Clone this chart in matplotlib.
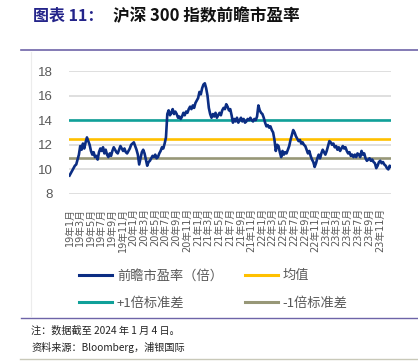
import matplotlib
matplotlib.use("Agg")
import matplotlib.pyplot as plt
from matplotlib.lines import Line2D
import pandas as pd

plt.rcParams['font.family'] = ['Noto Sans CJK SC', 'DejaVu Sans']

# weekly-ish forward P/E of CSI 300 (Jan 2019 - Jan 2024), 4 readings per month
pe_values = [
    # 2019
    9.5, 9.7, 9.9, 10.1,   10.3, 10.4, 10.8, 11.2,   11.9, 11.6, 12.1, 11.7,
    12.2, 12.6, 12.3, 12.0,   11.5, 11.2, 11.4, 11.0,   11.1, 10.8, 11.4, 11.7,
    11.5, 11.8, 11.3, 11.6,   11.2, 11.0, 11.3, 11.1,   11.5, 11.8, 11.6, 11.4,
    11.3, 11.6, 11.9, 11.7,   11.5, 11.7, 11.4, 11.3,   11.5, 11.7, 12.0, 12.1,
    # 2020
    12.2, 11.9, 11.6, 11.2,   10.4, 10.9, 11.4, 11.6,   11.3, 10.8, 10.3, 10.6,
    10.7, 10.9, 11.1, 11.0,   11.2, 10.9, 11.0, 11.3,   11.5, 11.8, 11.7, 12.1,
    12.6, 14.5, 14.8, 14.4,   14.6, 14.9, 14.5, 14.7,   14.5, 14.2, 14.3, 14.1,
    14.3, 14.6, 14.4, 14.7,   14.6, 14.9, 15.1, 14.9,   15.2, 15.0, 15.4, 15.6,
    # 2021
    15.8, 16.3, 16.1, 16.6,   16.9, 17.0, 16.6, 16.0,   15.0, 14.5, 14.2, 14.5,
    14.3, 14.6, 14.2, 14.4,   14.6, 14.4, 14.8, 15.0,   14.9, 15.3, 15.1, 14.8,
    14.9, 14.4, 13.8, 14.1,   13.9, 14.2, 13.8, 14.0,   14.2, 13.9, 14.1, 13.8,
    13.9, 14.1, 14.0, 14.2,   14.0, 13.9, 14.1, 14.0,   14.3, 15.2, 14.8, 14.6,
    # 2022
    14.5, 14.2, 13.8, 13.5,   13.6, 13.4, 13.5, 13.2,   13.0, 12.4, 11.5, 12.0,
    11.9, 11.4, 11.0, 11.5,   11.2, 11.4, 11.3, 11.6,   11.9, 12.4, 12.8, 13.2,
    13.0, 12.7, 12.5, 12.3,   12.4, 12.1, 12.2, 12.0,   11.9, 11.6, 11.3, 11.5,
    11.1, 10.8, 10.6, 10.2,   10.5, 10.9, 11.2, 10.9,   11.3, 11.6, 11.4, 11.2,
    # 2023
    11.5, 11.9, 12.3, 12.2,   12.0, 12.1, 11.8, 11.9,   11.6, 11.8, 11.5, 11.7,
    11.9, 11.7, 11.8, 11.5,   11.3, 11.4, 11.1, 11.2,   11.0, 11.2, 11.0, 11.3,
    11.2, 11.0, 11.5, 11.2,   11.3, 10.9, 10.7, 10.8,   10.9, 10.7, 10.8, 10.6,
    10.5, 10.1, 10.3, 10.6,   10.7, 10.5, 10.6, 10.4,   10.3, 10.1, 10.0, 10.3,
    # Jan 2024
    10.2,
]
start_date = "2019-01-01"
end_date = "2024-01-04"
mean_value = 12.45
plus_std = 14.03
minus_std = 10.90

y_ticks = [8, 10, 12, 14, 16, 18]
series_labels = ["前瞻市盈率（倍）", "均值", "+1倍标准差", "-1倍标准差"]
colors = ["#0b2d83", "#ffc000", "#10a099", "#979777"]

title_prefix = "图表 11："
title_main = "沪深 300 指数前瞻市盈率"
note_text = "注：数据截至 2024 年 1 月 4 日。"
source_text = "资料来源：Bloomberg，浦银国际"

dates = pd.date_range(start_date, end_date, periods=len(pe_values))
tick_dates = pd.date_range("2019-01-01", "2023-11-01", freq="2MS")
tick_labels = [f"{d.year % 100}年{d.month}月" for d in tick_dates]

W, H = 418, 363
fig = plt.figure(figsize=(W / 100, H / 100), dpi=100)

ax = fig.add_axes([69 / W, 1 - 194 / H, (391 - 69) / W, (194 - 71) / H])
lw = 1.9
ax.plot(dates, pe_values, color=colors[0], lw=lw, zorder=5)
ax.axhline(mean_value, color=colors[1], lw=lw, zorder=4)
ax.axhline(plus_std, color=colors[2], lw=lw, zorder=4)
ax.axhline(minus_std, color=colors[3], lw=lw, zorder=4)

ax.set_xlim(pd.Timestamp(start_date) - pd.Timedelta(days=3), pd.Timestamp(end_date))
ax.set_ylim(8, 18)
ax.set_yticks(y_ticks)
ax.set_yticklabels([str(t) for t in y_ticks], fontsize=9.5, color="#595959",
                   family=["Liberation Sans", "DejaVu Sans"])
ax.set_xticks(tick_dates)
ax.set_xticklabels(tick_labels, rotation=90, ha="center", va="top",
                   fontsize=7, color="#595959",
                   family=["DejaVu Sans", "Noto Sans CJK SC"])
ax.tick_params(axis="y", length=0, pad=12)
ax.tick_params(axis="x", length=0, pad=10)
for s in ax.spines.values():
    s.set_visible(False)
ax.grid(axis="y", color="#d9d9d9", lw=1.2)
ax.set_axisbelow(True)
ax.patch.set_alpha(0)

# legend order: row 1 -> series, mean ; row 2 -> +1 std, -1 std (column-major fill)
handles = [Line2D([], [], color=c, lw=2.2) for c in colors]
order = [0, 2, 1, 3]
leg = fig.legend([handles[i] for i in order], [series_labels[i] for i in order],
                 loc="upper left", bbox_to_anchor=(70 / W, 1 - 260 / H), ncol=2,
                 frameon=False, handlelength=2.5, handletextpad=0.35,
                 columnspacing=1.7, labelspacing=1.1, borderpad=0.2,
                 prop={"size": 9.5})
for t in leg.get_texts():
    t.set_color("#595959")

# title
fig.text(33 / W, 1 - 16 / H, title_prefix, fontsize=11.5, weight="bold",
         color="#24248a", va="center", ha="left")
fig.text(113 / W, 1 - 16 / H, title_main, fontsize=12, weight="bold",
         color="#111111", va="center", ha="left")

# frame lines
fig.add_artist(Line2D([21 / W, 1], [1 - 50 / H, 1 - 50 / H], color="#6e64a8", lw=1.2))
fig.add_artist(Line2D([21 / W, 1], [1 - 318 / H, 1 - 318 / H], color="#6e64a8", lw=1.0))
fig.add_artist(Line2D([20 / W, 1], [1 - 359 / H, 1 - 359 / H], color="#c9c9b9", lw=1.0))
fig.add_artist(Line2D([31 / W, 31 / W], [1 - 52 / H, 1 - 316 / H], color="#ececec", lw=0.8))

fig.text(31 / W, 1 - 331 / H, note_text, fontsize=7.3, color="#222222", va="center", ha="left")
fig.text(31 / W, 1 - 347 / H, source_text, fontsize=7.3, color="#222222", va="center", ha="left")

fig.savefig("out.png", dpi=100)
